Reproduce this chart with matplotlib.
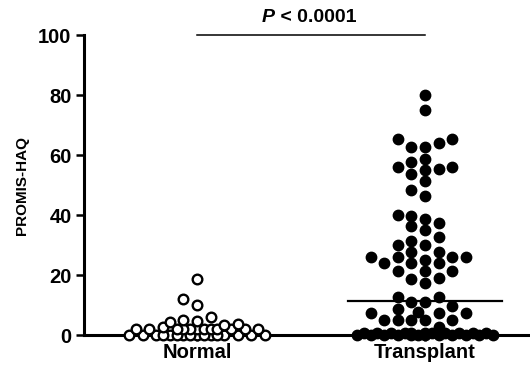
import numpy as np
import matplotlib
matplotlib.use("Agg")
import matplotlib.pyplot as plt

plt.rcParams['font.family'] = ['Liberation Sans', 'DejaVu Sans']

# values
groups = ['Normal', 'Transplant']
normal = [0] * 16 + [2.0] * 12 + [2.6, 3.2, 3.7, 4.3, 4.8, 5.0, 6.1, 10.0, 11.9, 18.7]
transplant = ([0] * 12 + [0.8] * 11 + [2.8, 5, 5, 5, 5, 5, 7.2, 7.2, 7.2, 7.8, 8.8,
              9.8, 11.1, 11.1, 12.8, 12.8, 17.4, 18.6, 18.9, 21.3, 21.3, 21.3,
              23.9, 23.9, 23.9, 25.0, 26.1, 26.1, 26.1, 26.1, 27.6, 27.6,
              30.0, 30.0, 31.4, 32.8, 35.0, 36.3, 37.4, 38.7, 39.7, 40.0,
              46.3, 48.5, 51.3, 53.7, 55.0, 55.2, 56.1, 56.1, 57.6, 58.8,
              62.6, 62.6, 63.9, 65.2, 65.2, 75.0, 80.0])
transplant_median = 11.3
p_text = '< 0.0001'

fig = plt.figure(figsize=(5.3, 3.69), dpi=100)
ax = fig.add_axes([0.1585, 0.092, 0.8415, 0.813])
ax.set_xlim(-0.496, 1.461)
ax.set_ylim(0, 100)


def swarm(vals, center, step=13.6, diam=10.0, nmax=5, k=0.6):
    # column beeswarm in pixel space; overlap is traded against distance
    # from the centre so crowded rows stay narrow
    pts = ax.transData.transform([(center, v) for v in vals])
    ys = pts[:, 1]
    order = np.argsort(vals, kind='stable')
    cands = [n * step for n in range(-nmax, nmax + 1)]
    cands += [(n + 0.5) * step for n in range(-nmax, nmax)]
    cands.sort(key=lambda c: (abs(c), c))
    placed = []
    xoff = np.zeros(len(vals))

    def score(c, y):
        d = min([np.hypot(c - px, y - py) for px, py in placed] or [1e9])
        half = (abs(c) / step) % 1 > 0.25
        return min(d, diam) - k * abs(c) / step - (0.3 if half else 0)

    for i in order:
        best = max(cands, key=lambda c: score(c, ys[i]))
        placed.append((best, ys[i]))
        xoff[i] = best
    ppu = ax.transData.transform((1, 0))[0] - ax.transData.transform((0, 0))[0]
    return center + xoff / ppu


xn = swarm(normal, 0, k=0.6)
xt = swarm(transplant, 1, k=0.15)
ax.scatter(xn, normal, s=48, facecolors='white', edgecolors='black',
           linewidths=1.7, clip_on=False, zorder=3)
ax.scatter(xt, transplant, s=56, color='black', clip_on=False, zorder=3)

ax.plot([1 - 0.338, 1 + 0.338], [transplant_median] * 2, color='black', lw=1.6, zorder=4)

# significance bar
ax.plot([0, 1], [100, 100], color='black', lw=1.1, clip_on=False)
ax.text(0.34, 106, 'P', ha='right', va='center', fontsize=14, fontweight='bold',
        fontstyle='italic')
ax.text(0.34, 106, ' ' + p_text, ha='left', va='center', fontsize=14, fontweight='bold')

for side in ['top', 'right']:
    ax.spines[side].set_visible(False)
for side in ['left', 'bottom']:
    ax.spines[side].set_linewidth(2.2)

ax.set_yticks([0, 20, 40, 60, 80, 100])
ax.set_xticks([0, 1])
ax.set_xticklabels(groups)
ax.tick_params(axis='y', length=6, width=1.8, pad=3, labelsize=14.5)
ax.tick_params(axis='x', length=4, width=1.8, pad=2, labelsize=14.5)
for lab in ax.get_xticklabels() + ax.get_yticklabels():
    lab.set_fontweight('bold')
ax.set_ylabel('PROMIS-HAQ', fontsize=11, fontweight='bold')
ax.yaxis.set_label_coords(-0.124, 0.5)

fig.savefig('out.png', dpi=100)
